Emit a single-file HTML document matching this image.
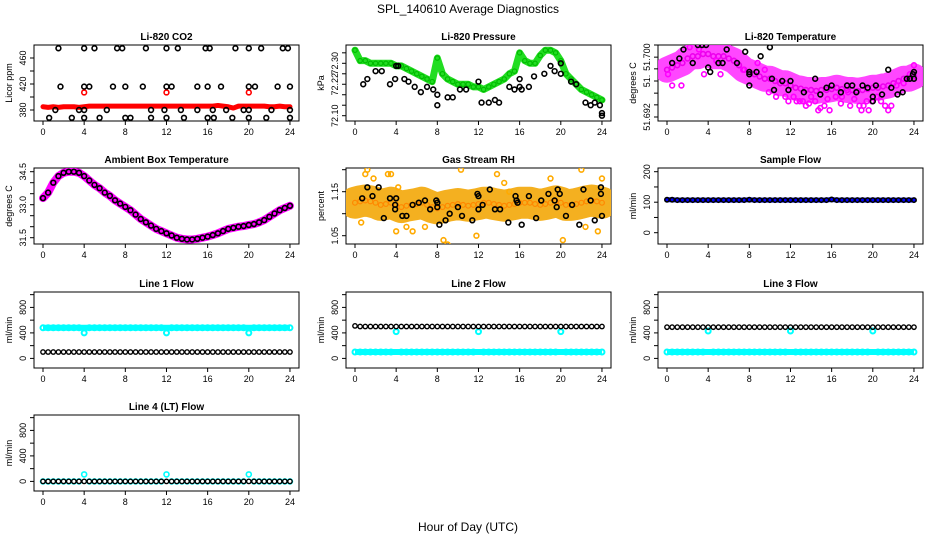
<!DOCTYPE html>
<html><head><meta charset="utf-8"><style>
body{margin:0;background:#fff}
svg{display:block;font-family:"Liberation Sans",Arial,sans-serif}
</style></head><body>
<svg id="c" width="936" height="540" viewBox="0 0 936 540">
<text x="468" y="13" text-anchor="middle" font-size="12">SPL_140610  Average Diagnostics</text>
<text x="468" y="531" text-anchor="middle" font-size="12">Hour of Day (UTC)</text>
</svg>
<script>
// ---------- data ----------
const halfHours = [0,0.5,1,1.5,2,2.5,3,3.5,4,4.5,5,5.5,6,6.5,7,7.5,8,8.5,9,9.5,10,10.5,11,11.5,12,12.5,13,13.5,14,14.5,15,15.5,16,16.5,17,17.5,18,18.5,19,19.5,20,20.5,21,21.5,22,22.5,23,23.5,24];
const xTicks = [0,4,8,12,16,20,24];
// CO2
const co2Red = [385,384,385,384,385,385,385,384,385,386,386,386,386,386,386,386,386,386,386,386,386,386,386,386,386,386,386,386,386,386,386,386,386,386,387,386,385,383,386,386,386,386,386,386,385,385,386,385,385];
const co2RedT = [4,12,20];
const co2RedV = [407,407,407];
const co2T = [1.5,4,5,7.2,7.7,10,12,13.1,15.8,16.2,18.7,20,21.2,23.3,23.8, 1.7,4,4.5,6.8,8,9.7,12,12.5,15,16,17.3,20,20.6,22.8,24, 1.2,3.5,4,6.2,10.5,11.8,13.4,15,16.5,17.8,19.5,20,22.2,24, 0.6,2.8,4,5.5,8,8.5,10.5,12,13.7,16,16.6,18.4,20,21.7,24];
const co2V = [475,475,475,475,475,475,475,475,475,475,475,475,475,475,475, 416,416,416,416,416,416,416,416,416,416,416,416,416,416,416, 380,380,380,380,380,380,380,380,380,380,380,380,380,380, 368,368,368,368,368,368,368,368,368,368,368,368,368,368,368];
// Pressure
const presGreen = [72.35,72.31,72.31,72.30,72.30,72.30,72.30,72.30,72.29,72.29,72.28,72.27,72.26,72.25,72.24,72.23,72.32,72.26,72.24,72.23,72.22,72.22,72.22,72.21,72.21,72.20,72.21,72.22,72.23,72.24,72.26,72.27,72.34,72.31,72.30,72.30,72.33,72.35,72.35,72.34,72.31,72.26,72.24,72.22,72.20,72.19,72.18,72.17,72.16];
const presT = [0.8,1.2,2,2.6,3.4,3.9,4,4.2,4.8,5.2,5.8,6.4,7,7.6,8,8,9,9.5,10.2,10.8,12,12.3,13,13.6,14,15,15.5,16,16,16.2,16.9,17.4,18.4,19,19.4,20,20,21,21.5,22.4,22.9,23.3,23.8,24,24];
const presV = [72.22,72.24,72.27,72.27,72.22,72.24,72.29,72.29,72.24,72.23,72.21,72.19,72.21,72.20,72.18,72.14,72.17,72.17,72.20,72.20,72.23,72.15,72.15,72.16,72.15,72.21,72.20,72.24,72.21,72.20,72.21,72.25,72.26,72.29,72.27,72.26,72.30,72.23,72.22,72.15,72.14,72.15,72.14,72.11,72.10];
// Li-820 temperature
const tempCenter = [51.7005,51.701,51.7015,51.702,51.703,51.7035,51.7035,51.704,51.704,51.7035,51.7035,51.7035,51.703,51.7025,51.7015,51.7005,51.700,51.6995,51.699,51.6985,51.6985,51.698,51.6975,51.6975,51.697,51.6965,51.6963,51.696,51.696,51.6958,51.696,51.696,51.6962,51.6965,51.6962,51.696,51.696,51.6958,51.696,51.6962,51.6965,51.6965,51.6968,51.697,51.6975,51.698,51.6985,51.6985,51.699];
const tempMT = [0.1,0.5,1.4,2.2,3.1,3.6,5.2,6,7.4,8.8,9.5,10.6,11.8,12.3,12.9,13.5,14,14.4,14.9,15.3,15.8,16.4,17,17.6,18.2,18.7,19.4,19.9,20.4,21.2,21.8,22.3,23,23.6,24,4.8,9.9,13.2,19.1,11.5,12.6,14.7,16.9,18.9,20.8,21.5,13.8,15.6,17.8,19.6];
const tempMV = [51.6995,51.697,51.697,51.7055,51.705,51.6995,51.6995,51.7065,51.7005,51.702,51.7005,51.6945,51.6935,51.6945,51.6935,51.6925,51.6945,51.6935,51.692,51.6925,51.6915,51.6945,51.6945,51.6955,51.694,51.6925,51.6935,51.6935,51.6945,51.6925,51.6925,51.697,51.6975,51.6995,51.7015,51.7025,51.6955,51.6935,51.6925,51.6945,51.6935,51.6915,51.693,51.6915,51.6935,51.6915,51.693,51.694,51.6925,51.6915];
const tempKT = [0.5,1.2,1.6,2.5,3,3.4,3.8,4,4.2,5,5.4,5.8,6.8,7.6,8,8,8,8.7,9.1,10,10.2,10.4,11.2,11.8,12,13.3,14.4,14.9,15.5,16,16.9,17.5,18,18.4,19,19.5,20,20,20.3,20.9,21.5,21.8,22.4,22.9,23.3,23.6,23.9,24,24];
const tempKV = [51.702,51.703,51.705,51.702,51.706,51.706,51.706,51.701,51.700,51.702,51.702,51.705,51.702,51.7045,51.700,51.6995,51.697,51.700,51.7035,51.7055,51.6985,51.696,51.698,51.696,51.698,51.6955,51.6985,51.695,51.6965,51.697,51.6955,51.697,51.697,51.6955,51.697,51.6965,51.6945,51.6935,51.697,51.695,51.7005,51.6965,51.695,51.6955,51.6985,51.6985,51.6995,51.6985,51.700];
// Ambient box temperature
const ambient = [33.3,33.55,34.0,34.3,34.45,34.5,34.5,34.45,34.3,34.1,33.9,33.75,33.55,33.4,33.2,33.05,32.9,32.75,32.55,32.35,32.2,32.05,31.9,31.8,31.7,31.6,31.5,31.45,31.42,31.42,31.45,31.5,31.55,31.62,31.7,31.8,31.9,31.95,32.0,32.03,32.08,32.12,32.2,32.3,32.45,32.6,32.75,32.85,32.95];
// Gas stream RH
const rhCenter = [1.125,1.128,1.13,1.128,1.125,1.12,1.122,1.125,1.12,1.115,1.118,1.12,1.122,1.125,1.12,1.115,1.112,1.115,1.118,1.12,1.122,1.12,1.118,1.12,1.122,1.125,1.125,1.122,1.12,1.118,1.12,1.122,1.125,1.125,1.125,1.122,1.12,1.122,1.125,1.128,1.125,1.12,1.12,1.122,1.125,1.128,1.13,1.128,1.125];
const rhOT = [1,1.2,1.8,3.2,3.5,4,4.2,5,5.6,6.8,8.6,9,10.3,11.8,13.8,14.5,15,19,20.2,22,22.4,24,0.6,23.6];
const rhOV = [1.19,1.2,1.18,1.19,1.19,1.06,1.16,1.07,1.06,1.07,1.04,1.03,1.2,1.05,1.19,1.17,1.15,1.18,1.04,1.2,1.07,1.18,1.08,1.06];
const rhKT = [0.7,1.2,1.7,2.3,2.8,3.4,3.9,3.9,4,4.6,5,5.6,6.2,6.8,7.3,7.9,8,8,8.2,8.8,9.2,10,10.4,11.4,11.9,12,12,12.4,13.1,13.6,14.1,14.9,15.6,15.7,15.8,16.2,16.9,17.6,18.1,18.8,19.4,19.6,19.7,19.9,20.5,21.1,21.8,22.2,22.9,23.3,23.9,23.9,24];
const rhKV = [1.135,1.16,1.14,1.16,1.09,1.135,1.12,1.11,1.135,1.095,1.095,1.12,1.125,1.13,1.11,1.13,1.125,1.115,1.075,1.085,1.10,1.115,1.095,1.085,1.145,1.14,1.11,1.12,1.155,1.11,1.11,1.08,1.14,1.13,1.125,1.075,1.14,1.09,1.13,1.145,1.13,1.115,1.155,1.145,1.095,1.12,1.075,1.155,1.13,1.085,1.145,1.16,1.095];
// Flows
const sampleFlow = [108,108,107,107,107,107,107,107,107,107,107,107,107,107,107,107,108,107,107,107,107,107,107,107,107,107,107,107,107,107,107,107,109,107,107,107,107,107,107,107,107,107,107,107,107,107,107,107,107];
const line1Cyan = [480,480,480,480,480,480,480,480,400,480,480,480,480,480,480,480,480,480,480,480,480,480,480,480,400,480,480,480,480,480,480,480,480,480,480,480,480,480,480,480,400,480,480,480,480,480,480,480,480];
const line1Black = [100,100,100,100,100,100,100,100,100,100,100,100,100,100,100,100,100,100,100,100,100,100,100,100,100,100,100,100,100,100,100,100,100,100,100,100,100,100,100,100,100,100,100,100,100,100,100,100,100];
const line2Black = [510,500,500,500,500,500,500,500,500,500,500,500,500,500,500,500,500,500,500,500,500,500,500,500,500,500,500,500,500,500,500,500,500,500,500,500,500,500,500,500,500,500,500,500,500,500,500,500,500];
const line2Cyan = [100,100,100,100,100,100,100,100,420,100,100,100,100,100,100,100,100,100,100,100,100,100,100,100,420,100,100,100,100,100,100,100,100,100,100,100,100,100,100,100,420,100,100,100,100,100,100,100,100];
const line3Black = [490,490,490,490,490,490,490,490,490,490,490,490,490,490,490,490,490,490,490,490,490,490,490,490,490,490,490,490,490,490,490,490,490,490,490,490,490,490,490,490,490,490,490,490,490,490,490,490,490];
const line3Cyan = [100,100,100,100,100,100,100,100,430,100,100,100,100,100,100,100,100,100,100,100,100,100,100,100,430,100,100,100,100,100,100,100,100,100,100,100,100,100,100,100,430,100,100,100,100,100,100,100,100];
const line4Black = [0,0,0,0,0,0,0,0,0,0,0,0,0,0,0,0,0,0,0,0,0,0,0,0,0,0,0,0,0,0,0,0,0,0,0,0,0,0,0,0,0,0,0,0,0,0,0,0,0];
const line4Cyan = [0,0,0,0,0,0,0,0,110,0,0,0,0,0,0,0,0,0,0,0,0,0,0,0,110,0,0,0,0,0,0,0,0,0,0,0,0,0,0,0,110,0,0,0,0,0,0,0,0];
const flowTicks = [0,200,400,600,800,1000];
const flowLabels = ['0','','400','','800',''];

// ---------- drawing ----------
const svg = document.getElementById('c');
const NS = 'http://www.w3.org/2000/svg';
function mk(tag, attrs, parent){const e=document.createElementNS(NS,tag);for(const k in attrs)e.setAttribute(k,attrs[k]);(parent||svg).appendChild(e);return e;}

function panel(col,row,name,title,ylab,va,oa,vb,ob,ticks,labels){
  const L=34+312*col, R=299+312*col, T=Math.round(45+123.3*row), B=T+76;
  const g=mk('g',{});
  
  
  const x=t=>43+312*col+t*10.29;
  const y=v=>T+oa+(v-va)*(ob-oa)/(vb-va);
  const tt=mk('text',{x:(L+R)/2,y:T-5,'text-anchor':'middle','font-size':10,'font-weight':'bold'},g);
  tt.textContent=title;
  
  
  const box=mk('rect',{x:L,y:T,width:R-L,height:B-T,fill:'none',stroke:'#000','stroke-width':1},g);
  
  
  xTicks.forEach(t=>{
    mk('line',{x1:x(t),x2:x(t),y1:B,y2:B+4,stroke:'#000'},g);
    const lb=mk('text',{x:x(t),y:B+14,'text-anchor':'middle','font-size':9},g);
    lb.textContent=t;
    
    
  });
  ticks.forEach((v,i)=>{
    mk('line',{x1:L-4,x2:L,y1:y(v),y2:y(v),stroke:'#000'},g);
    if(labels[i]){
      const lb=mk('text',{x:L-8,y:y(v),'text-anchor':'middle','font-size':9,transform:`rotate(-90 ${L-8} ${y(v)})`},g);
      lb.textContent=labels[i];
      
      
    }
  });
  const yt=mk('text',{x:L-22,y:(T+B)/2,'text-anchor':'middle','font-size':9,transform:`rotate(-90 ${L-22} ${(T+B)/2})`},g);
  yt.textContent=ylab;
  
  
  const clip='cl'+col+row;
  const cp=mk('clipPath',{id:clip},g); mk('rect',{x:L,y:T,width:R-L,height:B-T},cp);
  const pg=mk('g',{'clip-path':`url(#${clip})`},g);
  return {x,y,pg};
}
function band(p,ts,vs,color,w,name,op){
  const pl=mk('polyline',{points:ts.map((t,i)=>p.x(t)+','+p.y(vs[i])).join(' '),fill:'none',stroke:color,'stroke-width':w,'stroke-linejoin':'round','stroke-linecap':'round','stroke-opacity':op||1},p.pg);
  
  
}
// thick line through the baseline points only (points equal to the most common value), bridging outliers
function flat(p,ts,vs,color,w,name){
  const cnt={};vs.forEach(v=>cnt[v]=(cnt[v]||0)+1);
  const mode=+Object.keys(cnt).sort((a,b)=>cnt[b]-cnt[a])[0];
  const keep=ts.map((t,i)=>[t,vs[i]]).filter(d=>d[1]===mode);
  const pl=mk('polyline',{points:keep.map(d=>p.x(d[0])+','+p.y(d[1])).join(' '),fill:'none',stroke:color,'stroke-width':w},p.pg);
  
  
}
function pts(p,ts,vs,color,name,r,sw){
  ts.forEach((t,i)=>{
    const c=mk('circle',{cx:p.x(t),cy:p.y(vs[i]),r:r||2.4,fill:'none',stroke:color,'stroke-width':sw||1.6},p.pg);
    
    
  });
}
const hh=halfHours;

// CO2
let p=panel(0,0,'co2','Li-820 CO2','Licor ppm',380,65,460,13,[380,400,420,440,460],['380','','420','','460']);
band(p,hh,co2Red,'#ff0000',5,'co2-red-series');
pts(p,co2RedT,co2RedV,'#ff0000','co2-red-point');
pts(p,co2T,co2V,'#000','co2-black-point');
// Pressure
p=panel(1,0,'pressure','Li-820 Pressure','kPa',72.10,70.7,72.30,18.3,[72.10,72.14,72.18,72.22,72.26,72.30,72.34],['72.10','','','72.22','','72.30','']);
band(p,hh,presGreen,'#22dd22',7,'pressure-green-band');
pts(p,hh,presGreen,'#00bb00','pressure-green-point',2.2,1.2);
pts(p,presT,presV,'#000','pressure-black-point');
// Temperature
p=panel(2,0,'li820-temp','Li-820 Temperature','degrees C',51.692,63,51.700,27,[51.690,51.6927,51.6953,51.698,51.7007,51.7033,51.706],['51.692','','','51.','','51.700','']);
band(p,hh,tempCenter,'#ff33ff',26,'temp-magenta-band',0.9);
pts(p,hh,tempCenter,'#ee00ee','temp-magenta-point');
pts(p,tempMT,tempMV,'#ff00ff','temp-magenta-point');
pts(p,tempKT,tempKV,'#000','temp-black-point');
// Ambient
p=panel(0,1,'ambient','Ambient Box Temperature','degrees C',34.5,3.7,31.5,69.7,[31.5,32,32.5,33,33.5,34,34.5],['31.5','','','33.0','','','34.5']);
band(p,hh,ambient,'#ff00ff',8,'ambient-magenta-band');
pts(p,hh,ambient,'#000','ambient-black-point');
// RH
p=panel(1,1,'rh','Gas Stream RH','percent',1.05,67.7,1.15,23.7,[1.05,1.10,1.15,1.20],['1.05','','1.15','']);
band(p,hh,rhCenter,'#f4b020',32,'rh-orange-band');
pts(p,hh,rhCenter,'#ff8800','rh-orange-point',2.4,1.2);
pts(p,rhOT,rhOV,'#ffaa00','rh-outlier-point');
pts(p,rhKT,rhKV,'#000','rh-black-point');
// Sample flow
p=panel(2,1,'sample-flow','Sample Flow','ml/min',0,64.7,200,3.7,[0,50,100,150,200],['0','','100','','200']);
band(p,hh,sampleFlow,'#0000ff',5,'sample-flow-blue-line');
pts(p,hh,sampleFlow,'#000','sample-flow-black-point',2.2);
// Line flows
p=panel(0,2,'line1-flow','Line 1 Flow','ml/min',0,66.4,800,15.4,flowTicks,flowLabels);
flat(p,hh,line1Cyan,'#00ffff',6,'line1-cyan-line');
pts(p,hh,line1Cyan,'#00ffff','line1-cyan-point',2.5,2);
pts(p,hh,line1Black,'#000','line1-black-point',2.2,1.4);
p=panel(1,2,'line2-flow','Line 2 Flow','ml/min',0,66.4,800,15.4,flowTicks,flowLabels);
flat(p,hh,line2Cyan,'#00ffff',6,'line2-cyan-line');
pts(p,hh,line2Cyan,'#00ffff','line2-cyan-point',2.5,2);
pts(p,hh,line2Black,'#000','line2-black-point',2.2,1.4);
p=panel(2,2,'line3-flow','Line 3 Flow','ml/min',0,66.4,800,15.4,flowTicks,flowLabels);
flat(p,hh,line3Cyan,'#00ffff',6,'line3-cyan-line');
pts(p,hh,line3Cyan,'#00ffff','line3-cyan-point',2.5,2);
pts(p,hh,line3Black,'#000','line3-black-point',2.2,1.4);
p=panel(0,3,'line4-flow','Line 4 (LT) Flow','ml/min',0,66.4,800,15.4,flowTicks,flowLabels);
pts(p,hh,line4Cyan,'#00ffff','line4-cyan-point',2.5,1.6);
pts(p,hh,line4Black,'#000','line4-black-point',2.2,1.4);
</script>
</body></html>
